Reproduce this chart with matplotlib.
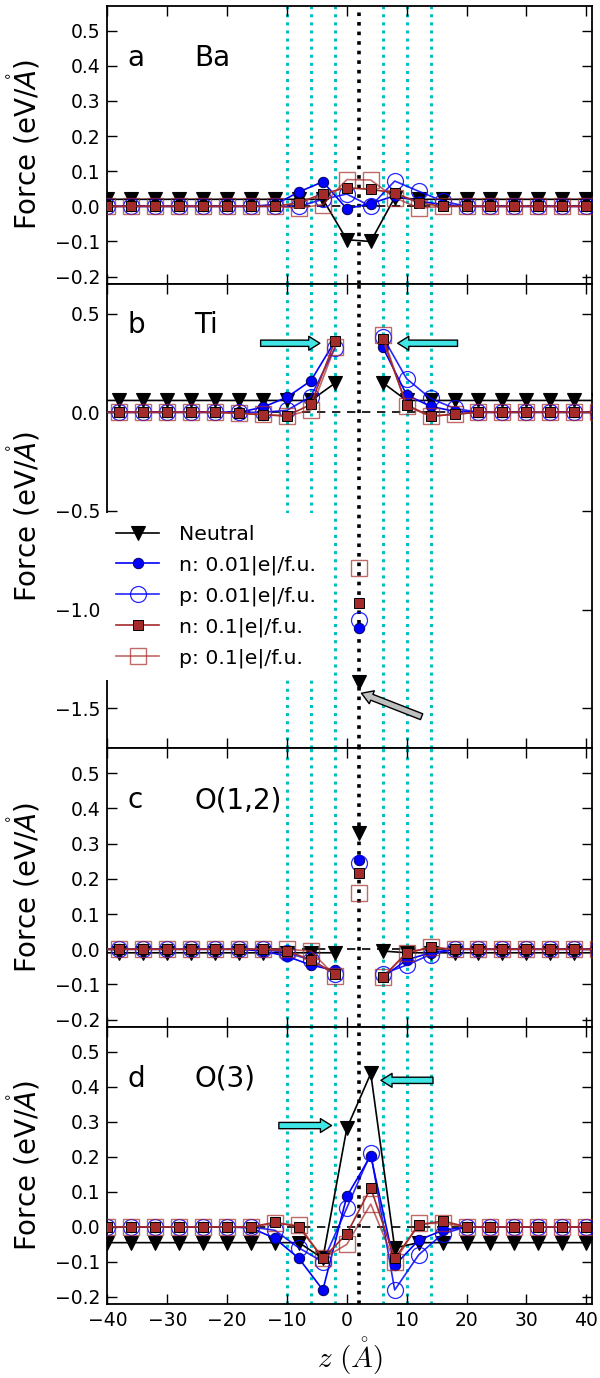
import numpy as np
import matplotlib
matplotlib.use("Agg")
import matplotlib.pyplot as plt

# ---------------- data ----------------
z_bao = [-40, -36, -32, -28, -24, -20, -16, -12, -8, -4, 0, 4, 8, 12, 16, 20, 24, 28, 32, 36, 40]
z_tio = [-42, -38, -34, -30, -26, -22, -18, -14, -10, -6, -2, 2, 6, 10, 14, 18, 22, 26, 30, 34, 38, 42]
z_center = 2
wall_lines = [-10, -6, -2, 6, 10, 14]

series_labels = ["Neutral", "n: 0.01|e|/f.u.", "p: 0.01|e|/f.u.", "n: 0.1|e|/f.u.", "p: 0.1|e|/f.u."]

# Panel a: Ba
ba_neutral = [0.02, 0.02, 0.02, 0.02, 0.02, 0.02, 0.02, 0.02, 0.02, 0.02, -0.095, -0.10, 0.025, 0.02, 0.02, 0.02, 0.02, 0.02, 0.02, 0.02, 0.02]
ba_n001 = [0.0, 0.0, 0.0, 0.0, 0.0, 0.0, 0.0, 0.005, 0.041, 0.07, -0.007, 0.008, 0.03, 0.015, 0.005, 0.0, 0.0, 0.0, 0.0, 0.0, 0.0]
ba_p001 = [0.0, 0.0, 0.0, 0.0, 0.0, 0.0, 0.0, 0.0, 0.0, 0.02, 0.035, 0.0, 0.072, 0.043, 0.015, 0.0, 0.0, 0.0, 0.0, 0.0, 0.0]
ba_n01 = [0.0, 0.0, 0.0, 0.0, 0.0, 0.0, 0.0, 0.0, 0.01, 0.036, 0.053, 0.048, 0.039, 0.01, 0.0, 0.0, 0.0, 0.0, 0.0, 0.0, 0.0]
ba_p01 = [0.0, 0.0, 0.0, 0.0, 0.0, 0.0, 0.0, 0.0, -0.005, 0.005, 0.076, 0.075, 0.025, -0.005, 0.0, 0.0, 0.0, 0.0, 0.0, 0.0, 0.0]

# Panel b: Ti (value at z=2 given separately)
nan = np.nan
ti_neutral = [0.06, 0.06, 0.06, 0.06, 0.06, 0.06, 0.06, 0.06, 0.06, 0.06, 0.147, nan, 0.15, 0.06, 0.06, 0.06, 0.06, 0.06, 0.06, 0.06, 0.06, 0.06]
ti_n001 = [0.0, 0.0, 0.0, 0.0, 0.0, 0.0, 0.0, 0.026, 0.076, 0.16, 0.36, nan, 0.33, 0.088, 0.03, 0.005, 0.0, 0.0, 0.0, 0.0, 0.0, 0.0]
ti_p001 = [0.0, 0.0, 0.0, 0.0, 0.0, 0.0, 0.0, 0.0, 0.01, 0.08, 0.325, nan, 0.383, 0.17, 0.07, 0.02, 0.0, 0.0, 0.0, 0.0, 0.0, 0.0]
ti_n01 = [0.0, 0.0, 0.0, 0.0, 0.0, 0.0, -0.005, -0.013, -0.018, 0.04, 0.36, nan, 0.37, 0.037, -0.02, -0.01, 0.0, 0.0, 0.0, 0.0, 0.0, 0.0]
ti_p01 = [0.0, 0.0, 0.0, 0.0, 0.0, 0.0, -0.005, -0.01, -0.02, 0.012, 0.33, nan, 0.39, 0.03, -0.02, -0.01, 0.0, 0.0, 0.0, 0.0, 0.0, 0.0]
ti_center = [-1.365, -1.095, -1.052, -0.965, -0.79]

# Panel c: O(1,2)
o12_neutral = [-0.01, -0.01, -0.01, -0.01, -0.01, -0.01, -0.01, -0.01, -0.01, -0.01, -0.01, nan, -0.005, -0.01, -0.01, -0.01, -0.01, -0.01, -0.01, -0.01, -0.01, -0.01]
o12_n001 = [0.0, 0.0, 0.0, 0.0, 0.0, 0.0, 0.0, -0.005, -0.02, -0.045, -0.06, nan, -0.08, -0.03, -0.01, 0.0, 0.0, 0.0, 0.0, 0.0, 0.0, 0.0]
o12_p001 = [0.0, 0.0, 0.0, 0.0, 0.0, 0.0, 0.0, 0.0, -0.01, -0.03, -0.07, nan, -0.07, -0.045, -0.015, 0.0, 0.0, 0.0, 0.0, 0.0, 0.0, 0.0]
o12_n01 = [0.0, 0.0, 0.0, 0.0, 0.0, 0.0, 0.0, 0.0, -0.005, -0.03, -0.07, nan, -0.08, -0.01, 0.005, 0.0, 0.0, 0.0, 0.0, 0.0, 0.0, 0.0]
o12_p01 = [0.0, 0.0, 0.0, 0.0, 0.0, 0.0, 0.0, 0.0, 0.0, -0.005, -0.075, nan, -0.08, -0.01, 0.005, 0.0, 0.0, 0.0, 0.0, 0.0, 0.0, 0.0]
o12_center = [0.329, 0.253, 0.244, 0.218, 0.16]

# Panel d: O(3)
o3_neutral = [-0.045, -0.045, -0.045, -0.045, -0.045, -0.045, -0.045, -0.045, -0.045, -0.09, 0.281, 0.4375, -0.06, -0.045, -0.045, -0.045, -0.045, -0.045, -0.045, -0.045, -0.045]
o3_n001 = [0.0, 0.0, 0.0, 0.0, 0.0, 0.0, -0.003, -0.033, -0.09, -0.18, 0.087, 0.203, -0.11, -0.038, -0.01, 0.0, 0.0, 0.0, 0.0, 0.0, 0.0]
o3_p001 = [0.0, 0.0, 0.0, 0.0, 0.0, 0.0, 0.0, -0.01, -0.06, -0.10, 0.054, 0.21, -0.18, -0.08, -0.02, 0.0, 0.0, 0.0, 0.0, 0.0, 0.0]
o3_n01 = [0.0, 0.0, 0.0, 0.0, 0.0, 0.0, 0.0, 0.013, 0.0, -0.09, -0.02, 0.111, -0.09, 0.005, 0.017, 0.0, 0.0, 0.0, 0.0, 0.0, 0.0]
o3_p01 = [0.0, 0.0, 0.0, 0.0, 0.0, 0.0, 0.0, 0.01, 0.005, -0.09, -0.05, 0.065, -0.10, 0.01, 0.01, 0.0, 0.0, 0.0, 0.0, 0.0, 0.0]

panel_letters = ["a", "b", "c", "d"]
panel_names = ["Ba", "Ti", "O(1,2)", "O(3)"]
xticks = [-40, -30, -20, -10, 0, 10, 20, 30, 40]
yticks_small = [-0.2, -0.1, 0.0, 0.1, 0.2, 0.3, 0.4, 0.5]
yticks_ti = [-1.5, -1.0, -0.5, 0.0, 0.5]

# ---------------- styles ----------------
BROWN = "#a52a2a"
styles = [
    dict(color="k", marker="v", ms=9.5, mfc="k", mec="k", mew=0.8, lw=1.2),
    dict(color="#0000ff", marker="o", ms=7.5, mfc="#0000ff", mec="#000060", mew=0.7, lw=1.2),
    dict(color="#0000ff", marker="o", ms=11.5, mfc="none", mec="#0000ff", mew=0.9, lw=1.2, alpha=0.85),
    dict(color=BROWN, marker="s", ms=7.5, mfc=BROWN, mec="k", mew=0.7, lw=1.2),
    dict(color=BROWN, marker="s", ms=11.5, mfc="none", mec=BROWN, mew=1.0, lw=1.2, alpha=0.7),
]

fig = plt.figure(figsize=(6, 13.78), dpi=100)
gs = fig.add_gridspec(4, 1, height_ratios=[278, 464.6, 278.4, 277.3], hspace=0,
                      left=0.179, right=0.987, top=0.9959, bottom=0.0537)
axes = [fig.add_subplot(gs[i]) for i in range(4)]

panels = [
    (z_bao, [ba_neutral, ba_n001, ba_p001, ba_n01, ba_p01], None),
    (z_tio, [ti_neutral, ti_n001, ti_p001, ti_n01, ti_p01], ti_center),
    (z_tio, [o12_neutral, o12_n001, o12_p001, o12_n01, o12_p01], o12_center),
    (z_bao, [o3_neutral, o3_n001, o3_p001, o3_n01, o3_p01], None),
]

handles = []
for i, (ax, (zz, ser, cen)) in enumerate(zip(axes, panels)):
    for xv in wall_lines:
        ax.axvline(xv, color=(0.0, 0.75, 0.75), ls=":", lw=2.2, zorder=1)
    ax.axvline(z_center, color="k", ls=":", lw=2.6, zorder=1)
    ax.axhline(0.0, color="k", ls="--", lw=1.2, dashes=(5, 4), zorder=1)
    for k, (vals, st) in enumerate(zip(ser, styles)):
        h, = ax.plot(zz, vals, label=series_labels[k], zorder=3 + k * 0.1, **st)
        if i == 0:
            handles.append(h)
        if cen is not None:
            ax.plot([z_center], [cen[k]], zorder=3 + k * 0.1, **st)

    ax.set_xlim(-40, 41)
    if i == 1:
        ax.set_ylim(-1.703, 0.652)
        ax.set_yticks(yticks_ti)
    else:
        ax.set_ylim(-0.22, 0.571)
        ax.set_yticks(yticks_small)
    ax.set_xticks(xticks)
    ax.tick_params(direction="in", top=True, right=True, length=7.5, width=1.0,
                   labelsize=13.5, pad=5)
    if i < 3:
        ax.tick_params(labelbottom=False)
    for sp in ax.spines.values():
        sp.set_linewidth(1.3)
    ax.set_ylabel(r"Force (eV/$\mathring{A}$)", fontsize=20, labelpad=9)
    ax.text(-36.6, 0.4, panel_letters[i], fontsize=20, va="baseline")
    ax.text(-25.5, 0.4, panel_names[i], fontsize=20, va="baseline")

axes[3].set_xlabel(r"$z\ (\mathring{A})$", fontsize=21, math_fontfamily="cm", labelpad=4)

# arrows
arrow_cyan = dict(facecolor=(0.25, 0.9, 0.9), edgecolor="k", lw=1.0, width=4.5,
                  headwidth=10, headlength=8, shrink=0)
arrow_gray = dict(facecolor=(0.75, 0.75, 0.75), edgecolor="k", lw=1.0, width=4.5,
                  headwidth=10, headlength=8, shrink=0)
axes[1].annotate("", xy=(-4.5, 0.35), xytext=(-14.4, 0.35), arrowprops=arrow_cyan)
axes[1].annotate("", xy=(8.5, 0.35), xytext=(18.5, 0.35), arrowprops=arrow_cyan)
axes[1].annotate("", xy=(2.45, -1.424), xytext=(12.5, -1.543), arrowprops=arrow_gray)
axes[3].annotate("", xy=(-2.55, 0.289), xytext=(-11.35, 0.289), arrowprops=arrow_cyan)
axes[3].annotate("", xy=(5.7, 0.418), xytext=(14.4, 0.418), arrowprops=arrow_cyan)

leg = axes[1].legend(handles=handles, loc="upper left", bbox_to_anchor=(-0.007, 0.5065),
                     fontsize=14.7, numpoints=1, handlelength=2.1, handletextpad=0.95,
                     labelspacing=0.56, borderpad=0.6, borderaxespad=0.0,
                     frameon=True, fancybox=False, framealpha=1.0)
leg.get_frame().set_edgecolor("white")
leg.get_frame().set_linewidth(0)
leg.set_zorder(10)

fig.savefig("out.png", dpi=100)
